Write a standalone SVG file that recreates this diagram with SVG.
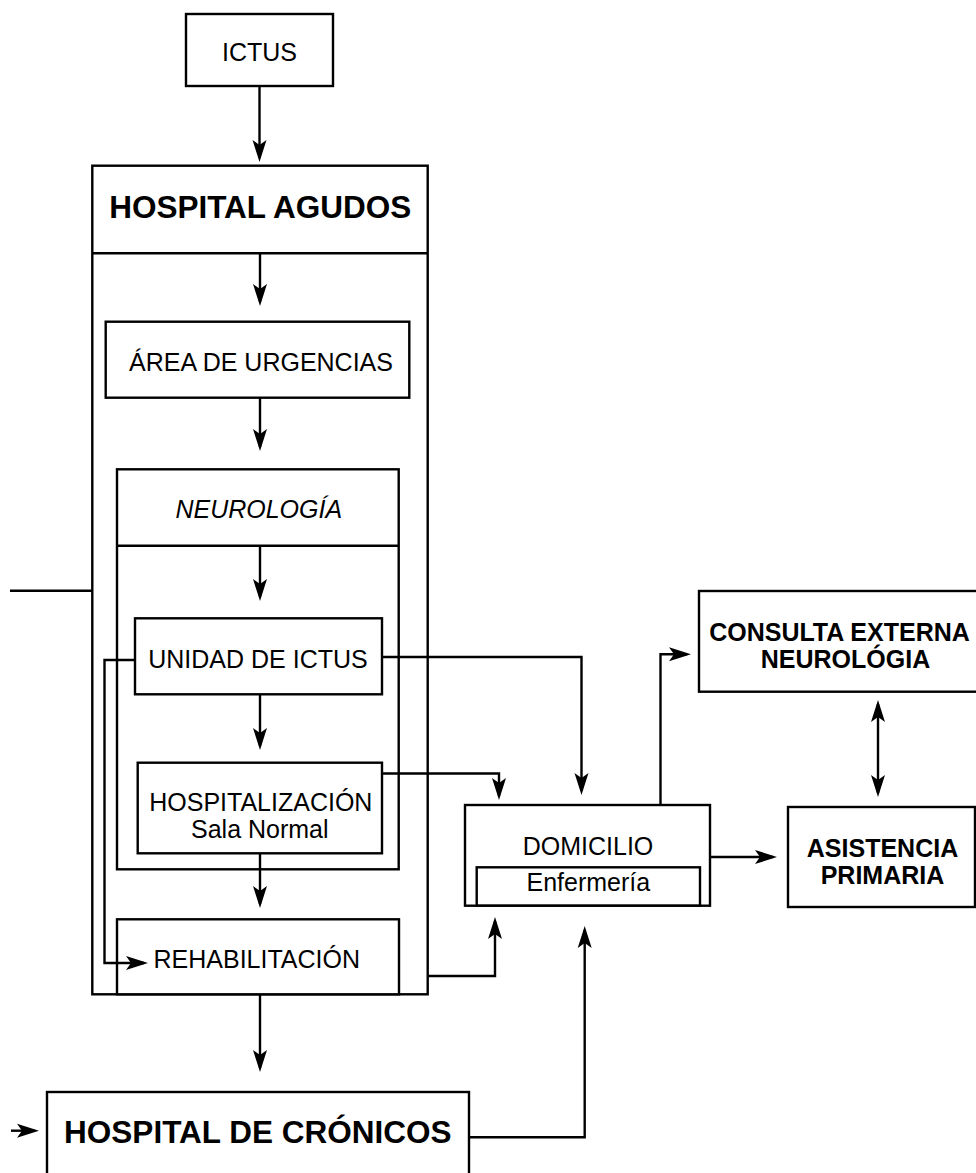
<svg xmlns="http://www.w3.org/2000/svg" width="976" height="1173" viewBox="0 0 976 1173">
<style>
.box{fill:#fff;stroke:#000;stroke-width:2.4}
.ln{fill:none;stroke:#000;stroke-width:2.4}
.t{font-family:"Liberation Sans",Arial,Helvetica,sans-serif;font-size:25px;fill:#000;text-anchor:middle}
.b{font-weight:bold}
.big{font-size:31.5px}
.it{font-style:italic}
.arr{marker-end:url(#ah)}
</style>
<defs>
<marker id="ah" markerUnits="userSpaceOnUse" markerWidth="26" markerHeight="18" viewBox="-1 -9 26 18" refX="18" refY="0" orient="auto-start-reverse" overflow="visible">
<path d="M0,-7 L22,0 L0,7 L5,0 Z" fill="#000"/>
</marker>
</defs>
<rect width="976" height="1173" fill="#fff"/>

<g id="ictus">
<rect class="box" x="186" y="14" width="147" height="72"/>
<text class="t" x="259.5" y="61">ICTUS</text>
</g>

<g id="hospital-agudos">
<rect class="box" x="92.3" y="165.7" width="335.4" height="828.6"/>
<line class="ln" x1="92.3" y1="253.3" x2="427.7" y2="253.3"/>
<text class="t b big" x="260.3" y="218.3">HOSPITAL AGUDOS</text>
</g>

<g id="area-urgencias">
<rect class="box" x="105.7" y="321.7" width="303.6" height="76"/>
<text class="t" x="261" y="370.7">ÁREA DE URGENCIAS</text>
</g>

<g id="neurologia">
<rect class="box" x="117" y="469.3" width="281.7" height="400"/>
<line class="ln" x1="117" y1="545.7" x2="398.7" y2="545.7"/>
<text class="t it" x="258.8" y="518.3">NEUROLOGÍA</text>
</g>

<g id="unidad-ictus">
<rect class="box" x="135" y="618.3" width="247" height="76"/>
<text class="t" x="258" y="667.7">UNIDAD DE ICTUS</text>
</g>

<g id="hospitalizacion">
<rect class="box" x="137.7" y="762.7" width="244.3" height="90.6"/>
<text class="t" x="260.8" y="811">HOSPITALIZACIÓN</text>
<text class="t" x="259.8" y="838.3">Sala Normal</text>
</g>

<g id="rehabilitacion">
<rect class="box" x="117" y="919.3" width="282" height="75"/>
<text class="t" x="153.5" y="967.7" style="text-anchor:start">REHABILITACIÓN</text>
</g>

<g id="hospital-cronicos">
<rect class="box" x="47" y="1092" width="422" height="100"/>
<text class="t b big" x="257.8" y="1143.3">HOSPITAL DE CRÓNICOS</text>
</g>

<g id="domicilio">
<rect class="box" x="465" y="805" width="245" height="100.7"/>
<rect class="box" x="476.7" y="867.3" width="223.3" height="38.2"/>
<text class="t" x="588" y="855">DOMICILIO</text>
<text class="t" x="588.3" y="890.7">Enfermería</text>
</g>

<g id="consulta-externa">
<rect class="box" x="699" y="591" width="290" height="100.7"/>
<text class="t b" x="839.5" y="641">CONSULTA EXTERNA</text>
<text class="t b" x="845.5" y="667.7">NEUROLÓGIA</text>
</g>

<g id="asistencia-primaria">
<rect class="box" x="788" y="807" width="187" height="100"/>
<text class="t b" x="882.5" y="856.7">ASISTENCIA</text>
<text class="t b" x="882.5" y="884">PRIMARIA</text>
</g>

<g id="connectors">
<path class="ln arr" d="M259.5,86 V158"/>
<path class="ln arr" d="M260,253.3 V302"/>
<path class="ln arr" d="M260,397.7 V447"/>
<path class="ln arr" d="M260,545.7 V597"/>
<path class="ln arr" d="M260,694.3 V746"/>
<path class="ln arr" d="M260,853.3 V904"/>
<path class="ln arr" d="M260,994.3 V1068"/>
<path class="ln" d="M10,590.7 H92.3"/>
<path class="ln arr" d="M135,660 H104.5 V963 H144"/>
<path class="ln arr" d="M382,657 H581.5 V791"/>
<path class="ln arr" d="M382,773.5 H499 V796"/>
<path class="ln arr" d="M427.7,976 H495 V921"/>
<path class="ln arr" d="M469,1137.3 H584.7 V930"/>
<path class="ln arr" d="M660.5,805 V654.3 H687"/>
<path class="ln arr" d="M710,857 H773"/>
<path class="ln arr" d="M878,704 V793" marker-start="url(#ah)"/>
<path class="ln arr" d="M11,1130.7 H35"/>
</g>
</svg>
